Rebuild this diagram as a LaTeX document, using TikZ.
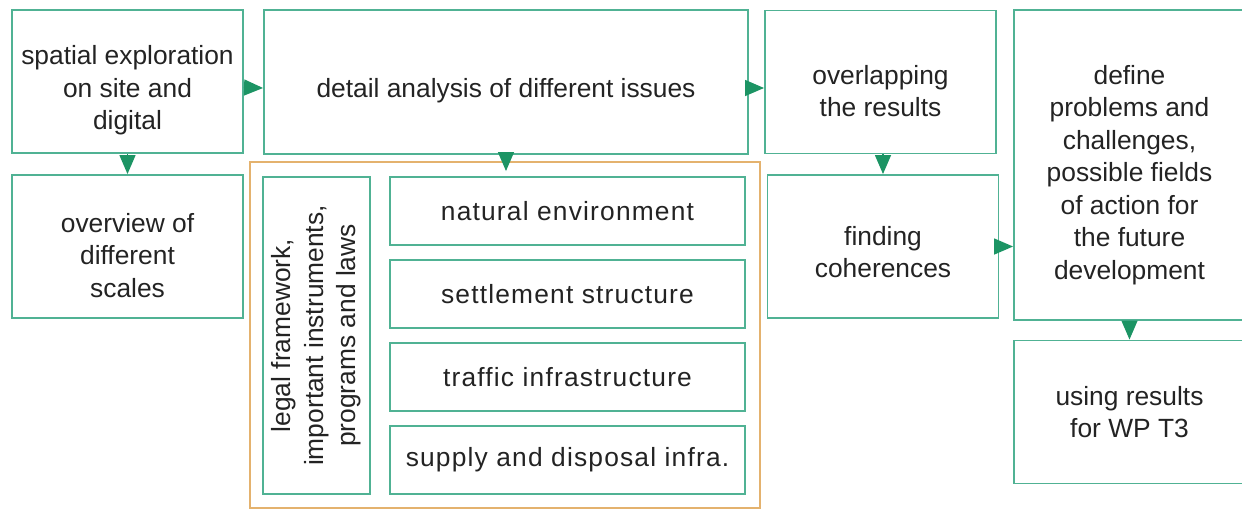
\documentclass[tikz,border=0pt]{standalone}
\usepackage{fontspec}
\setmainfont{Liberation Sans}
\usetikzlibrary{arrows.meta}
\definecolor{boxgreen}{RGB}{80,178,148}
\definecolor{tipgreen}{RGB}{28,148,100}
\definecolor{frameorange}{RGB}{228,178,110}
\definecolor{textgray}{RGB}{35,35,35}
\newcommand{\boxtop}[1]{\rule{0pt}{#1}}
\tikzset{
  box/.style={draw=boxgreen, line width=1.1pt, align=center, text=textgray,
    font=\fontsize{15}{18.5}\selectfont, inner sep=2pt},
  wide/.style={box, minimum width=4.62cm, minimum height=2.86cm},
  issue/.style={box, minimum width=7.1cm, minimum height=1.36cm,
    font=\fontsize{15}{18.5}\selectfont\addfontfeature{LetterSpace=4.5}},
  flow/.style={draw=tipgreen, line width=0.8pt, -{Triangle[length=0.38cm, width=0.32cm]}},
}

\begin{document}
\begin{tikzpicture}[x=0.02cm, y=-0.02cm]
\useasboundingbox (0,0) rectangle (1242,515);
\node[wide] (explore) at (127.5,81.5) {\boxtop{21pt}spatial exploration\\on site and\\digital};
\node[wide] (scales) at (127.5,246.5) {\boxtop{21pt}overview of\\different\\scales};
\node[box, minimum width=9.68cm, minimum height=2.88cm] (detail) at (506,82) {\boxtop{21pt}detail analysis of different issues};
\draw[frameorange, line width=1.1pt] (250,162) rectangle (760,508);
\node[box, rotate=90, minimum width=6.34cm, minimum height=2.14cm] (legal) at (316.5,335.5) {legal framework,\\important instruments,\\programs and laws};
\node[issue] (natural) at (567.5,211) {natural environment};
\node[issue] (settle) at (567.5,294) {settlement structure};
\node[issue] (traffic) at (567.5,377) {traffic infrastructure};
\node[issue] (supply) at (567.5,460) {supply and disposal infra.};
\node[wide] (overlap) at (880.5,82) {\boxtop{21pt}overlapping\\the results};
\node[wide] (cohere) at (883,246.5) {\boxtop{17pt}finding\\coherences};
\node[box, minimum width=4.62cm, minimum height=6.2cm] (define) at (1129.5,165) {\boxtop{22pt}define\\problems and\\challenges,\\possible fields\\of action for\\the future\\development};
\node[wide] (using) at (1129.5,412) {using results\\for WP T3};

\draw[flow] ([yshift=-0.12cm]explore.east) -- ([yshift=-0.12cm]detail.west);
\draw[flow] ([yshift=-0.12cm]detail.east) -- ([yshift=-0.12cm]overlap.west);
\draw[flow] (explore.south) -- (scales.north);
\draw[flow, shorten >=0.1cm] (detail.south) -- (detail.south |- natural.north);
\draw[flow] (overlap.south -| cohere.north) -- (cohere.north);
\draw[flow] (cohere.east) -- (cohere.east -| define.west);
\draw[flow] (define.south) -- (using.north);
\end{tikzpicture}
\end{document}
